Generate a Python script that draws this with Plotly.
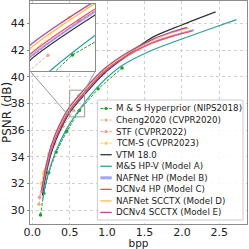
import plotly.graph_objects as go

# ---------------- data ----------------
hp_bpp = [0.11, 0.155, 0.22, 0.32, 0.46, 0.63, 0.88, 1.2]
hp_psnr = [29.63, 31.26, 32.8, 34.35, 35.9, 37.48, 39.1, 40.67]

cheng_bpp = [0.09, 0.14, 0.21, 0.3, 0.41, 0.555]
cheng_psnr = [30.43, 31.95, 33.55, 35.0, 36.3, 37.47]

stf_bpp = [0.097, 0.16, 0.26, 0.42, 0.65, 0.96]
stf_psnr = [30.96, 32.85, 34.8, 36.8, 38.5, 40.3]

tcm_bpp = [0.123, 0.15, 0.22, 0.37, 0.62, 0.98, 1.45]
tcm_psnr = [32.0, 32.77, 34.2, 36.3, 38.6, 40.62, 42.25]

vtm_bpp = [0.135, 0.18, 0.25, 0.35, 0.5, 0.7, 0.95, 1.25, 1.6, 2.0, 2.45]
vtm_psnr = [31.1, 32.55, 34.2, 35.7, 37.32, 38.68, 40.2, 41.55, 42.95, 43.9, 44.88]

a_bpp = [0.14, 0.2, 0.3, 0.45, 0.63, 0.9, 1.2, 1.6, 2.0, 2.4, 2.73]
a_psnr = [30.8, 32.45, 34.2, 36.0, 37.55, 39.4, 40.85, 42.0, 42.85, 43.65, 44.3]

b_bpp = [0.13, 0.18, 0.25, 0.35, 0.5, 0.7, 0.95, 1.25, 1.6, 1.9, 2.16]
b_psnr = [31.25, 32.8, 34.4, 35.85, 37.42, 38.78, 40.28, 41.5, 42.55, 43.12, 43.52]

c_bpp = [0.128, 0.18, 0.25, 0.35, 0.5, 0.7, 0.95, 1.25, 1.6, 1.9, 2.14]
c_psnr = [31.3, 32.9, 34.5, 35.95, 37.5, 38.86, 40.35, 41.55, 42.55, 43.1, 43.45]

d_bpp = [0.126, 0.18, 0.25, 0.35, 0.5, 0.7, 0.95, 1.25, 1.6, 1.85, 2.09]
d_psnr = [31.4, 33.1, 34.7, 36.15, 37.67, 39.02, 40.48, 41.68, 42.72, 43.28, 43.66]

e_bpp = [0.125, 0.18, 0.25, 0.35, 0.5, 0.7, 0.95, 1.25, 1.6, 1.85, 2.07]
e_psnr = [31.45, 33.2, 34.8, 36.25, 37.77, 39.1, 40.55, 41.75, 42.8, 43.35, 43.72]

names = ["M & S Hyperprior (NIPS2018)", "Cheng2020 (CVPR2020)", "STF (CVPR2022)",
         "TCM-S (CVPR2023)", "VTM 18.0", "M&S HP-V (Model A)", "NAFNet HP (Model B)",
         "DCNv4 HP (Model C)", "NAFNet SCCTX (Model D)", "DCNv4 SCCTX (Model E)"]
xs = [hp_bpp, cheng_bpp, stf_bpp, tcm_bpp, vtm_bpp, a_bpp, b_bpp, c_bpp, d_bpp, e_bpp]
ys = [hp_psnr, cheng_psnr, stf_psnr, tcm_psnr, vtm_psnr, a_psnr, b_psnr, c_psnr, d_psnr, e_psnr]

x_ticks = [0.0, 0.5, 1.0, 1.5, 2.0, 2.5]
y_ticks = [30, 32, 34, 36, 38, 40, 42, 44]
x_title = "bpp"
y_title = "PSNR (dB)"

# ---------------- styles ----------------
colors = ["#1f9a1f", "#e0b48c", "#f7988a", "#ffd447", "#333333", "#2e9e9b",
          "rgba(90,90,255,0.55)", "#ff4a4a", "#ffb84d", "#a64ca6"]
dashed = [True, True, True, True, False, False, False, False, False, False]
widths = [1, 1, 1, 1, 1.2, 1.2, 2, 1.2, 1.2, 1.2]
leg_widths = [1, 1, 1, 1, 1.3, 1.3, 3, 1.3, 1.3, 1.3]
DASH = "3px,1.5px"
FONT = "DejaVu Sans"

W = H = 249
PL, PR, PT, PB = 28, 247, 1, 224
x_range = [-0.03, 2.87]
y_range = [28.95, 45.7]
zoom_x = [0.5, 0.7]
zoom_y = [37, 39]


def pxx(p):
    return (p - PL) / (PR - PL)


def pxy(p):
    return (PB - p) / (PB - PT)


inset_dx = [pxx(28), pxx(94)]
inset_dy = [pxy(71), pxy(4)]

fig = go.Figure()
for axis_pair in (("x", "y"), ("x2", "y2")):
    for i in range(len(names)):
        line = dict(color=colors[i], width=widths[i])
        if dashed[i]:
            line["dash"] = DASH
            mode = "lines+markers"
        else:
            line["shape"] = "spline"
            line["smoothing"] = 0.8
            mode = "lines"
        fig.add_trace(go.Scatter(
            x=xs[i], y=ys[i], mode=mode, name=names[i], line=line,
            marker=dict(size=3.5, color=colors[i]),
            xaxis=axis_pair[0], yaxis=axis_pair[1], showlegend=False,
            cliponaxis=True, hoverinfo="skip"))

axis_common = dict(showline=True, mirror=True, linecolor="#8c8c8c", linewidth=1,
                   zeroline=False)
fig.update_layout(
    width=W, height=H,
    margin=dict(l=PL, r=W - PR, t=PT, b=H - PB, pad=0),
    paper_bgcolor="white", plot_bgcolor="white",
    font=dict(family=FONT, size=11, color="#222222"),
    showlegend=False,
    xaxis=dict(range=x_range, tickvals=x_ticks, ticktext=[f"{v:.1f}" for v in x_ticks],
               showgrid=True, gridcolor="#d0d0d0", griddash="dot", ticks="",
               ticklabelstandoff=-2, automargin=False,
               title=dict(text=x_title, font=dict(size=10.5), standoff=0),
               **axis_common),
    yaxis=dict(range=y_range, tickvals=y_ticks, showgrid=True, gridcolor="#d0d0d0",
               griddash="dot", ticks="outside", ticklen=2, tickcolor="#8c8c8c",
               title=dict(text=y_title, font=dict(size=12), standoff=1),
               **axis_common),
    xaxis2=dict(domain=inset_dx, range=zoom_x, anchor="y2", showticklabels=False,
                showgrid=False, **axis_common),
    yaxis2=dict(domain=inset_dy, range=zoom_y, anchor="x2", showticklabels=False,
                showgrid=False, **axis_common),
)


def dom2x(f):
    return x_range[0] + f * (x_range[1] - x_range[0])


def dom2y(f):
    return y_range[0] + f * (y_range[1] - y_range[0])


# zoom rectangle and connector lines (main-axis data coordinates)
fig.add_shape(type="rect", xref="x", yref="y", x0=zoom_x[0], x1=zoom_x[1],
              y0=zoom_y[0], y1=zoom_y[1], line=dict(color="#9a9a9a", width=1), layer="above")
fig.add_shape(type="line", xref="x", yref="y", x0=dom2x(inset_dx[0]), y0=dom2y(inset_dy[0]),
              x1=zoom_x[0], y1=zoom_y[0], line=dict(color="#9a9a9a", width=1), layer="above")
fig.add_shape(type="line", xref="x", yref="y", x0=dom2x(inset_dx[1]), y0=dom2y(inset_dy[0]),
              x1=zoom_x[1], y1=zoom_y[1], line=dict(color="#9a9a9a", width=1), layer="above")

# custom compact legend
LX0, LX1, LY0, LY1 = 96, 243, 100, 220
fig.add_shape(type="rect", xref="paper", yref="paper", x0=pxx(LX0), x1=pxx(LX1),
              y0=pxy(LY1), y1=pxy(LY0), fillcolor="rgba(255,255,255,0.85)",
              line=dict(color="#cccccc", width=1), layer="above")
row0, step = 108.5, 11.55
for i, nm in enumerate(names):
    yy = pxy(row0 + step * i)
    ln = dict(color=colors[i], width=leg_widths[i])
    if dashed[i]:
        ln["dash"] = DASH
    fig.add_shape(type="line", xref="paper", yref="paper", x0=pxx(99), x1=pxx(110.5),
                  y0=yy, y1=yy, line=ln, layer="above")
    if dashed[i]:
        r = 1.6
        fig.add_shape(type="circle", xref="paper", yref="paper",
                      x0=pxx(104.75 - r), x1=pxx(104.75 + r),
                      y0=yy - r / (PB - PT), y1=yy + r / (PB - PT),
                      fillcolor=colors[i], line=dict(width=0), layer="above")
    fig.add_annotation(x=pxx(112.5), y=yy, xref="paper", yref="paper", text=nm,
                       showarrow=False, xanchor="left", yanchor="middle",
                       font=dict(size=8.7, family=FONT, color="#222222"))

fig.write_html("out.html", config={"displayModeBar": False},
               post_script="document.body.style.margin='0';")
